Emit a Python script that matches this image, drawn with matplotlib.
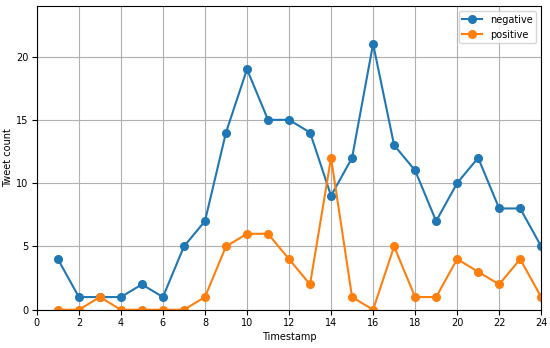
import matplotlib
matplotlib.use('Agg')
import matplotlib.pyplot as plt

timestamps = list(range(1, 25))
negative = [4, 1, 1, 1, 2, 1, 5, 7, 14, 19, 15, 15, 14, 9, 12, 21, 13, 11, 7, 10, 12, 8, 8, 5]
positive = [0, 0, 1, 0, 0, 0, 0, 1, 5, 6, 6, 4, 2, 12, 1, 0, 5, 1, 1, 4, 3, 2, 4, 1]

plt.rcParams['font.size'] = 7

fig, ax = plt.subplots(figsize=(5.5, 3.48), dpi=100)
ax.plot(timestamps, negative, marker='o', markersize=5.5, label='negative')
ax.plot(timestamps, positive, marker='o', markersize=5.5, label='positive')

ax.set_xlim(0, 24)
ax.set_ylim(0, 24)
ax.set_xticks(range(0, 25, 2))
ax.set_yticks([0, 5, 10, 15, 20])
ax.set_xlabel('Timestamp', labelpad=3)
ax.set_ylabel('Tweet count', labelpad=2)
ax.tick_params(pad=2.5)
ax.grid(True, color='#b0b0b0', linewidth=0.8)
ax.legend(loc='upper right')

fig.subplots_adjust(left=0.067, right=0.984, top=0.983, bottom=0.11)
fig.savefig('out.png', dpi=100)
